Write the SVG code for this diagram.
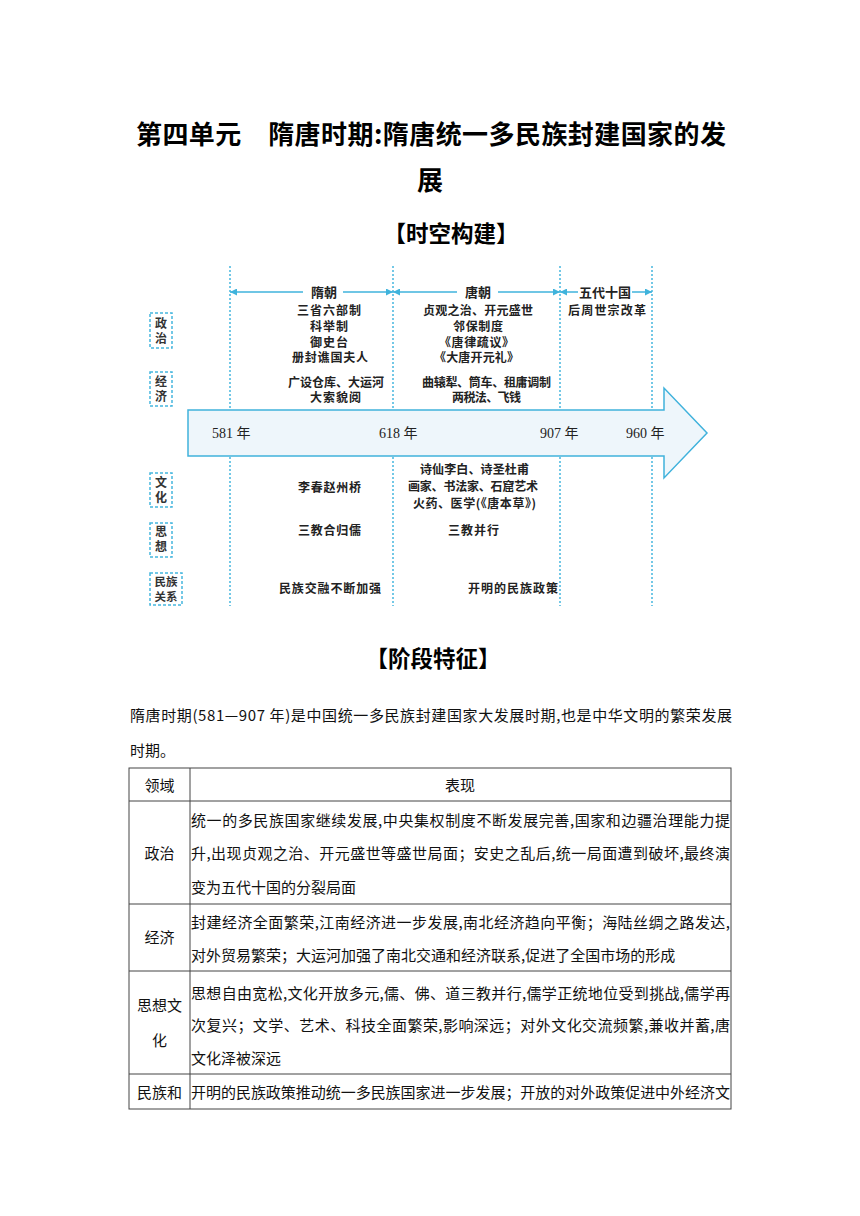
<svg xmlns="http://www.w3.org/2000/svg" width="860" height="1216" viewBox="0 0 860 1216">
<style>
.t{font-family:"Noto Sans CJK SC","Noto Sans",sans-serif;fill:#000}
.h1{font-size:26px;font-weight:700}
.h2{font-size:22.5px;font-weight:700}
.tl{font-family:"Noto Sans CJK SC",sans-serif;font-size:12px;font-weight:700;fill:#222}
.hd{font-family:"Noto Sans CJK SC",sans-serif;font-size:13px;font-weight:700;fill:#222;text-anchor:middle}
.yr{font-family:"Liberation Serif","Noto Sans CJK SC",serif;font-size:14px;fill:#222}
.lb{font-family:"Noto Sans CJK SC",sans-serif;font-size:12px;font-weight:700;fill:#333;text-anchor:middle}
.box{fill:none;stroke:#45b6de;stroke-width:1.5;stroke-dasharray:3 2}
.dot{stroke:#45b6de;stroke-width:1.5;stroke-dasharray:2 2;fill:none}
.sp{stroke:#3fb3dc;stroke-width:1.5;fill:none}
.b{font-family:"Noto Sans CJK SC",sans-serif;font-size:15px;fill:#111}
.c{text-anchor:middle}
.grid{stroke:#444;stroke-width:1;fill:none}
</style>
<defs>
<marker id="ah" viewBox="0 0 8 8" refX="8" refY="4" markerWidth="7" markerHeight="7" markerUnits="userSpaceOnUse" orient="auto-start-reverse"><path d="M0,0 L8,4 L0,8 z" fill="#3fb3dc"/></marker>
</defs>
<rect width="860" height="1216" fill="#fff"/>

<g id="title">
<text class="t h1" x="136" y="144" textLength="590" lengthAdjust="spacing">第四单元　隋唐时期:隋唐统一多民族封建国家的发</text>
<text class="t h1 c" x="430" y="190">展</text>
</g>
<g id="heading-timeline"><text class="t h2 c" x="451" y="242">【时空构建】</text></g>

<g id="timeline-arrow">
<polygon points="188,410 664,410 664,388 707,433 664,478 664,456 188,456" fill="#eef6fb" stroke="#40b2dc" stroke-width="1.5"/>
<text class="yr" x="212" y="438">581 年</text>
<text class="yr" x="379" y="438">618 年</text>
<text class="yr" x="540" y="438">907 年</text>
<text class="yr" x="626" y="438">960 年</text>
</g>

<g id="connectors">
<line class="dot" x1="230" y1="266" x2="230" y2="410"/>
<line class="dot" x1="393" y1="266" x2="393" y2="410"/>
<line class="dot" x1="560" y1="266" x2="560" y2="410"/>
<line class="dot" x1="652" y1="266" x2="652" y2="410"/>
<line class="dot" x1="230" y1="457" x2="230" y2="606"/>
<line class="dot" x1="393" y1="457" x2="393" y2="606"/>
<line class="dot" x1="560" y1="457" x2="560" y2="606"/>
<line class="dot" x1="652" y1="457" x2="652" y2="606"/>
<line class="sp" x1="230" y1="292" x2="303" y2="292" marker-start="url(#ah)"/>
<line class="sp" x1="343" y1="292" x2="393" y2="292" marker-end="url(#ah)"/>
<line class="sp" x1="393" y1="292" x2="457" y2="292" marker-start="url(#ah)"/>
<line class="sp" x1="498" y1="292" x2="560" y2="292" marker-end="url(#ah)"/>
<line class="sp" x1="560" y1="292" x2="578" y2="292" marker-start="url(#ah)"/>
<line class="sp" x1="632" y1="292" x2="652" y2="292" marker-end="url(#ah)"/>
</g>

<g id="period-sui"><text class="hd" x="324" y="296.5">隋朝</text></g>
<g id="period-tang"><text class="hd" x="478" y="296.5">唐朝</text></g>
<g id="period-wudai"><text class="hd" x="605" y="296.5">五代十国</text></g>

<g id="label-zhengzhi">
<rect class="box" x="150" y="313" width="22" height="35"/>
<text class="lb" x="161" y="328">政</text><text class="lb" x="161" y="343">治</text>
</g>
<g id="label-jingji">
<rect class="box" x="150" y="372" width="22" height="34"/>
<text class="lb" x="161" y="386">经</text><text class="lb" x="161" y="401">济</text>
</g>
<g id="label-wenhua">
<rect class="box" x="150" y="473" width="22" height="34"/>
<text class="lb" x="161" y="487">文</text><text class="lb" x="161" y="502">化</text>
</g>
<g id="label-sixiang">
<rect class="box" x="150" y="523" width="22" height="34"/>
<text class="lb" x="161" y="536">思</text><text class="lb" x="161" y="551">想</text>
</g>
<g id="label-minzu">
<rect class="box" x="150" y="573" width="32" height="32"/>
<text class="lb" x="166" y="585.5" style="font-size:11.5px">民族</text><text class="lb" x="166" y="600.5" style="font-size:11.5px">关系</text>
</g>

<g id="sui-content">
<text class="tl" x="297" y="314.5" textLength="64" lengthAdjust="spacing">三省六部制</text>
<text class="tl" x="310" y="330.5" textLength="38" lengthAdjust="spacing">科举制</text>
<text class="tl" x="310" y="346.5" textLength="38" lengthAdjust="spacing">御史台</text>
<text class="tl" x="292" y="361.5" textLength="76" lengthAdjust="spacing">册封谯国夫人</text>
<text class="tl" x="288" y="386.5" textLength="96" lengthAdjust="spacing">广设仓库、大运河</text>
<text class="tl" x="310" y="401.5" textLength="51" lengthAdjust="spacing">大索貌阅</text>
<text class="tl" x="298" y="491.5" textLength="63" lengthAdjust="spacing">李春赵州桥</text>
<text class="tl" x="298" y="534.5" textLength="63" lengthAdjust="spacing">三教合归儒</text>
<text class="tl" x="279" y="592.5" textLength="102" lengthAdjust="spacing">民族交融不断加强</text>
</g>

<g id="tang-content">
<text class="tl" x="423" y="314.5" textLength="110" lengthAdjust="spacing">贞观之治、开元盛世</text>
<text class="tl" x="453" y="330.5" textLength="50" lengthAdjust="spacing">邻保制度</text>
<text class="tl" x="439" y="346.5" textLength="75" lengthAdjust="spacing">《唐律疏议》</text>
<text class="tl" x="434" y="361.5" textLength="85" lengthAdjust="spacing">《大唐开元礼》</text>
<text class="tl" x="422" y="386.5" textLength="129" lengthAdjust="spacing">曲辕犁、筒车、租庸调制</text>
<text class="tl" x="452" y="401.5" textLength="69" lengthAdjust="spacing">两税法、飞钱</text>
<text class="tl" x="420" y="473.5" textLength="109" lengthAdjust="spacing">诗仙李白、诗圣杜甫</text>
<text class="tl" x="408" y="490.5" textLength="130" lengthAdjust="spacing">画家、书法家、石窟艺术</text>
<text class="tl" x="413" y="507.5" textLength="123" lengthAdjust="spacing">火药、医学(《唐本草》)</text>
<text class="tl" x="448" y="534.5" textLength="51" lengthAdjust="spacing">三教并行</text>
<text class="tl" x="468" y="593" textLength="90" lengthAdjust="spacing">开明的民族政策</text>
</g>

<g id="wudai-content">
<text class="tl" x="568" y="314.5" textLength="78" lengthAdjust="spacing">后周世宗改革</text>
</g>

<g id="heading-features"><text class="t h2 c" x="433" y="667">【阶段特征】</text></g>

<g id="intro">
<text class="b" x="130" y="721" textLength="602" lengthAdjust="spacing">隋唐时期(581—907 年)是中国统一多民族封建国家大发展时期,也是中华文明的繁荣发展</text>
<text class="b" x="130" y="756">时期。</text>
</g>

<g id="table">
<rect class="grid" x="129" y="768" width="602" height="341"/>
<line class="grid" x1="190" y1="768" x2="190" y2="1109"/>
<line class="grid" x1="129" y1="801" x2="731" y2="801"/>
<line class="grid" x1="129" y1="904" x2="731" y2="904"/>
<line class="grid" x1="129" y1="971" x2="731" y2="971"/>
<line class="grid" x1="129" y1="1074" x2="731" y2="1074"/>
<text class="b c" x="159.5" y="790.5">领域</text>
<text class="b c" x="460" y="790.5">表现</text>
<text class="b c" x="159.5" y="858.5">政治</text>
<text class="b" x="191" y="825.5" textLength="539" lengthAdjust="spacing">统一的多民族国家继续发展,中央集权制度不断发展完善,国家和边疆治理能力提</text>
<text class="b" x="191" y="858.5" textLength="539" lengthAdjust="spacing">升,出现贞观之治、开元盛世等盛世局面；安史之乱后,统一局面遭到破坏,最终演</text>
<text class="b" x="191" y="892.5">变为五代十国的分裂局面</text>
<text class="b c" x="159.5" y="943">经济</text>
<text class="b" x="191" y="927.5" textLength="539" lengthAdjust="spacing">封建经济全面繁荣,江南经济进一步发展,南北经济趋向平衡；海陆丝绸之路发达,</text>
<text class="b" x="191" y="960.5">对外贸易繁荣；大运河加强了南北交通和经济联系,促进了全国市场的形成</text>
<text class="b c" x="159.5" y="1010.5">思想文</text>
<text class="b c" x="159.5" y="1045.5">化</text>
<text class="b" x="191" y="998.5" textLength="539" lengthAdjust="spacing">思想自由宽松,文化开放多元,儒、佛、道三教并行,儒学正统地位受到挑战,儒学再</text>
<text class="b" x="191" y="1030.5" textLength="539" lengthAdjust="spacing">次复兴；文学、艺术、科技全面繁荣,影响深远；对外文化交流频繁,兼收并蓄,唐</text>
<text class="b" x="191" y="1063.5">文化泽被深远</text>
<text class="b c" x="159.5" y="1097.5">民族和</text>
<text class="b" x="191" y="1097.5" textLength="539" lengthAdjust="spacing">开明的民族政策推动统一多民族国家进一步发展；开放的对外政策促进中外经济文</text>
</g>
</svg>
